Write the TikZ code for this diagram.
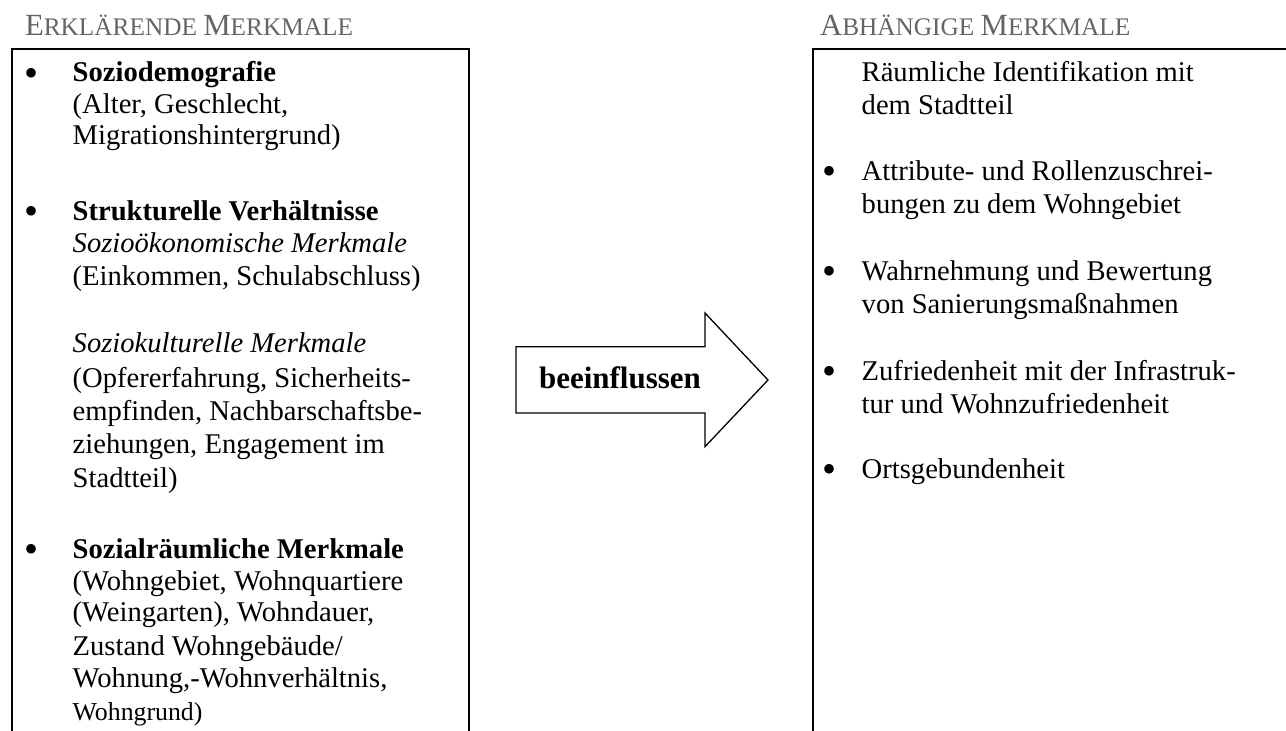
\documentclass[tikz,border=0pt]{standalone}
\usepackage{fontspec}
\setmainfont{Liberation Serif}
\definecolor{hdr}{RGB}{100,100,100}
\newcommand{\bodyfont}{\fontsize{28.6}{31.5}\selectfont}
\newcommand{\smallbody}{\fontsize{25.8}{31.5}\selectfont}
\newcommand{\bulfont}{\fontsize{40}{40}\selectfont}
\newcommand{\hbig}{\fontsize{30.8}{34}\selectfont}
\newcommand{\hsmall}{\fontsize{25.3}{34}\selectfont}
\tikzset{
  txt/.style={anchor=base west, inner sep=0pt, outer sep=0pt, font=\bodyfont},
  bul/.style={anchor=base west, inner sep=0pt, outer sep=0pt, font=\bulfont, yshift=-4.5pt},
  hdrtxt/.style={anchor=base west, inner sep=0pt, outer sep=0pt, text=hdr},
  frame/.style={line width=2pt, line cap=butt},
  bigarrow/.style={draw, line width=1.3pt, fill=white, line join=miter},
  arrowlabel/.style={anchor=base, inner sep=0pt, font=\fontsize{31}{34}\selectfont\bfseries}
}
\begin{document}
\begin{tikzpicture}[x=1pt,y=-1pt]
\useasboundingbox (0,0) rectangle (1286,731);
% headers
\node[hdrtxt] (h1) at (25,35) {\hbig E\hsmall RKLÄRENDE \hbig M\hsmall ERKMALE};
\node[hdrtxt] (h2) at (820,35) {\hbig A\hsmall BHÄNGIGE \hbig M\hsmall ERKMALE};
% frames
\coordinate (lb1) at (11.5,740);
\coordinate (lt1) at (11.5,48.5);
\coordinate (lt2) at (469,48.5);
\coordinate (lb2) at (469,740);
\draw[frame] (lb1) -- (lt1) -- (lt2) -- (lb2);
\coordinate (rb1) at (812.5,740);
\coordinate (rt1) at (812.5,48.5);
\coordinate (rt2) at (1290,48.5);
\draw[frame] (rb1) -- (rt1) -- (rt2);
% left text
\node[bul] (lb01) at (24,81.7) {•};
\node[txt] (l01) at (72.7,81.7) {\bfseries Soziodemografie};
\node[txt] (l02) at (72.7,113) {(Alter, Geschlecht,};
\node[txt] (l03) at (72.7,144.5) {Migrationshintergrund)};
\node[bul] (lb02) at (24,220) {•};
\node[txt] (l04) at (72.7,220) {\bfseries Strukturelle Verhältnisse};
\node[txt] (l05) at (72.7,252) {\itshape Sozioökonomische Merkmale};
\node[txt] (l06) at (72.7,285) {(Einkommen, Schulabschluss)};
\node[txt] (l07) at (72.7,352) {\itshape Soziokulturelle Merkmale};
\node[txt] (l08) at (72.7,387.5) {(Opfererfahrung, Sicherheits-};
\node[txt] (l09) at (72.7,420) {empfinden, Nachbarschaftsbe-};
\node[txt] (l10) at (72.7,453.5) {ziehungen, Engagement im};
\node[txt] (l11) at (72.7,487.5) {Stadtteil)};
\node[bul] (lb03) at (24,558) {•};
\node[txt] (l12) at (72.7,558) {\bfseries Sozialräumliche Merkmale};
\node[txt] (l13) at (72.7,590) {(Wohngebiet, Wohnquartiere};
\node[txt] (l14) at (72.7,621.7) {(Weingarten), Wohndauer,};
\node[txt] (l15) at (72.7,655) {Zustand Wohngebäude/};
\node[txt] (l16) at (72.7,687) {Wohnung,-Wohnverhältnis,};
\node[txt, font=\smallbody] (l17) at (72.7,720) {Wohngrund)};
% right text
\node[txt] (r01) at (861.7,81.7) {Räumliche Identifikation mit};
\node[txt] (r02) at (861.7,114) {dem Stadtteil};
\node[bul] (rb01) at (822,180) {•};
\node[txt] (r03) at (861.7,180) {Attribute- und Rollenzuschrei-};
\node[txt] (r04) at (861.7,213) {bungen zu dem Wohngebiet};
\node[bul] (rb02) at (822,280) {•};
\node[txt] (r05) at (861.7,280) {Wahrnehmung und Bewertung};
\node[txt] (r06) at (861.7,313) {von Sanierungsmaßnahmen};
\node[bul] (rb03) at (822,380) {•};
\node[txt] (r07) at (861.7,380) {Zufriedenheit mit der Infrastruk-};
\node[txt] (r08) at (861.7,413) {tur und Wohnzufriedenheit};
\node[bul] (rb04) at (822,478) {•};
\node[txt] (r09) at (861.7,478) {Ortsgebundenheit};
% arrow
\draw[bigarrow] (516,346.7) -- (705,346.7) -- (705,313) -- (768,380) -- (705,446.7) -- (705,413) -- (516,413) -- cycle;
\node[arrowlabel] (lab) at (620,388.3) {beeinflussen};
\end{tikzpicture}
\end{document}
